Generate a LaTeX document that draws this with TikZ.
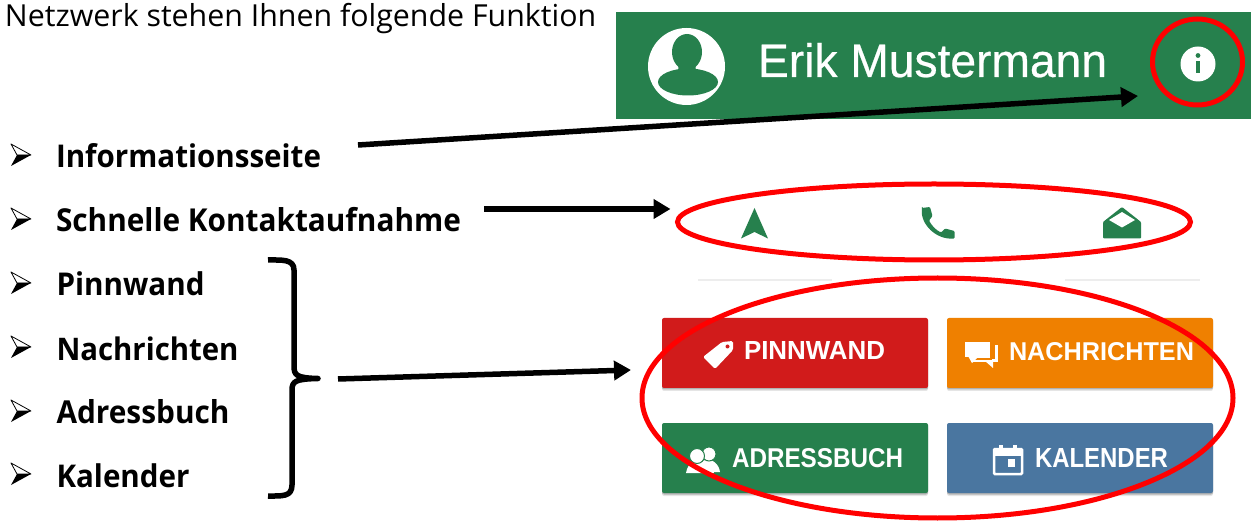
\documentclass[tikz,border=0pt]{standalone}
\usepackage{fontspec}
\usepackage{graphicx}
\setmainfont{Open Sans}
\newfontfamily\uifont{Liberation Sans}
\newfontfamily\uifontm[FakeBold=0.5]{Liberation Sans}
\usetikzlibrary{arrows.meta,shapes.geometric,shadows}
\definecolor{hdrgreen}{HTML}{26804D}
\definecolor{btnred}{HTML}{D11B1B}
\definecolor{btnorange}{HTML}{EF8000}
\definecolor{btnblue}{HTML}{4A76A0}
\definecolor{ringred}{HTML}{FF0000}
\newcommand{\fitw}[2]{\resizebox{#1pt}{!}{#2}}
\newcommand{\fitv}[2]{\scalebox{1}[1.06]{\resizebox{#1pt}{!}{#2}}}
\newcommand{\fitwh}[3]{\resizebox{#1pt}{#2pt}{#3}}
\tikzset{
  lbl/.style={anchor=base west,inner sep=0pt,outer sep=0pt,text=black},
  uilbl/.style={anchor=base west,inner sep=0pt,outer sep=0pt,text=white},
  ring/.style={draw=ringred,line width=5pt,ellipse,inner sep=0pt,outer sep=0pt},
  arrowline/.style={draw=black,line width=5.5pt,-{Triangle[length=17pt,width=19pt]}},
  btn/.style={rectangle,rounded corners=2pt,inner sep=0pt,outer sep=0pt,
    minimum width=266pt,minimum height=70pt,
    general shadow={shadow yshift=-3pt,fill=black,opacity=.10},
    general shadow={shadow yshift=-1.5pt,fill=black,opacity=.22}},
  divider/.style={draw=black!7,line width=2pt},
  brace/.style={draw=black,line width=5.5pt,line cap=butt,line join=round}
}
\begin{document}
\begin{tikzpicture}[x=1pt,y=-1pt]
\useasboundingbox (0,0) rectangle (1251,521);
\fill[white] (0,0) rectangle (1251,521);
% intro
\node[lbl] (intro) at (5,27) {\fitw{591}{Netzwerk stehen Ihnen folgende Funktion}};
% header
\node[rectangle,fill=hdrgreen,inner sep=0pt,outer sep=0pt,minimum width=635pt,minimum height=107pt,anchor=north west] (header) at (616,12) {};
\fill[white] (686.5,66.5) circle (38.5);
\fill[hdrgreen] (688,82) ellipse (30 and 13.5);
\fill[hdrgreen] (687,52) ellipse (15 and 18);
\fill[hdrgreen] (679,60) -- (695,60) -- (696,72) -- (678,72) -- cycle;
\node[uilbl] (name) at (758,77) {\fitwh{349}{34}{\uifontm Erik Mustermann}};
\fill[white] (1198,64) circle (17.5);
\fill[hdrgreen] (1198,55.5) circle (2.4);
\fill[hdrgreen] (1195.8,61) rectangle (1200.2,73);
% contact icons
\fill[hdrgreen] (754.5,208) -- (768,238.5) -- (754.5,232) -- (741,238.5) -- cycle;
\fill[hdrgreen,rounded corners=1pt] (922,208) -- (930,207) -- (932.5,216) -- (929,220.5)
  .. controls (932,226) and (936,230) .. (941,232.5) -- (945,228.5) -- (954.5,231) -- (954.5,238.5)
  .. controls (936,240) and (920,224) .. (922,208) -- cycle;
\fill[hdrgreen,rounded corners=1pt] (1103,222) -- (1122,207) -- (1141,222) -- (1141,238.5) -- (1103,238.5) -- cycle;
\fill[white] (1122,212) -- (1135,220) -- (1122,227.5) -- (1109,220) -- cycle;
% dividers
\draw[divider] (698,280) -- (832,280);
\draw[divider] (1065,280) -- (1200,280);
% buttons
\node[btn,fill=btnred] (pin) at (795,353) {};
\node[btn,fill=btnorange] (msg) at (1080,353) {};
\node[btn,fill=hdrgreen] (addr) at (795,458) {};
\node[btn,fill=btnblue] (cal) at (1080,458) {};
\node[uilbl] (pinT) at (744,360) {\fitwh{141}{18}{\uifont\bfseries PINNWAND}};
\node[uilbl] (msgT) at (1009,360) {\fitwh{185}{18}{\uifont\bfseries NACHRICHTEN}};
\node[uilbl] (addrT) at (732,467) {\fitwh{171}{19}{\uifont\bfseries ADRESSBUCH}};
\node[uilbl] (calT) at (1035,467) {\fitwh{133}{19}{\uifont\bfseries KALENDER}};
% tag icon
\fill[white,rounded corners=1.5pt] (703,357) -- (722,342) -- (733,341) -- (733,350) -- (715,369) -- cycle;
\fill[btnred] (727.5,346.5) circle (2);
% chat icon
\fill[white] (971,345) rectangle (998,362);
\fill[white] (985,361) -- (993,368) -- (993,361) -- cycle;
\fill[btnorange] (990,345) rectangle (995,359);
\fill[btnorange] (972,358) rectangle (992,360);
\fill[white] (965,342) rectangle (990,357);
\fill[white] (968,356) -- (972,363) -- (979,356) -- cycle;
% address icon
\fill[white] (686,473) .. controls (688,462) and (695,460) .. (700,460) .. controls (706,460) and (712,463) .. (714,473) -- cycle;
\fill[white] (704,460) .. controls (712,458) and (719,464) .. (720,472) -- (713,472) -- cycle;
\fill[white,draw=hdrgreen,line width=1pt] (709,454) circle (7);
\fill[white,draw=hdrgreen,line width=1pt] (697,456) circle (7.5);
% calendar icon
\draw[white,line width=2.5pt,rounded corners=1pt] (994,449) rectangle (1022,474);
\fill[white] (994,449) rectangle (1022,456);
\fill[white] (999,445) rectangle (1003,450);
\fill[white] (1013,445) rectangle (1017,450);
\fill[white] (1008,459) rectangle (1015,467);
% left list bullets
\foreach \yy in {144,208,272,336,400,463}{
  \begin{scope}[yshift=-\yy pt]
    \draw[black,line width=.8pt,fill=white,line join=round] (11,0) -- (31,11) -- (17,11) -- cycle;
    \fill[black] (11,22) -- (31,11) -- (17,11) -- cycle;
  \end{scope}
}
\node[lbl] (t1) at (56,168) {\fitv{265}{\bfseries Informationsseite}};
\node[lbl] (t2) at (56,232) {\fitv{405}{\bfseries Schnelle Kontaktaufnahme}};
\node[lbl] (t3) at (56.5,296) {\fitv{148}{\bfseries Pinnwand}};
\node[lbl] (t4) at (56.5,360) {\fitv{182}{\bfseries Nachrichten}};
\node[lbl] (t5) at (56.5,424) {\fitv{173}{\bfseries Adressbuch}};
\node[lbl] (t6) at (56.5,487) {\fitv{133}{\bfseries Kalender}};
% brace
\draw[brace] (268,260) .. controls (282,260) and (294,259) .. (294,270) -- (294,366)
  .. controls (294,375) and (296,378) .. (318,378.5) .. controls (296,379) and (292,381) .. (292,390)
  -- (292,485) .. controls (292,497) and (282,496) .. (268,496);
% rings
\node[ring,minimum width=90pt,minimum height=86pt] (infoRing) at (1197.5,62) {};
\node[ring,minimum width=513pt,minimum height=76pt] (contactRing) at (934,222) {};
\node[ring,minimum width=591pt,minimum height=240pt] (btnRing) at (937.5,398) {};
% connectors
\coordinate (a1s) at (358,145);
\coordinate (a1e) at (1138,96);
\coordinate (a2s) at (484,209);
\coordinate (a2e) at (670.5,209);
\coordinate (a3s) at (338,379);
\coordinate (a3e) at (631,370);
\draw[arrowline] (a1s) -- (a1e);
\draw[arrowline] (a2s) -- (a2e);
\draw[arrowline] (a3s) -- (a3e);
\end{tikzpicture}
\end{document}
